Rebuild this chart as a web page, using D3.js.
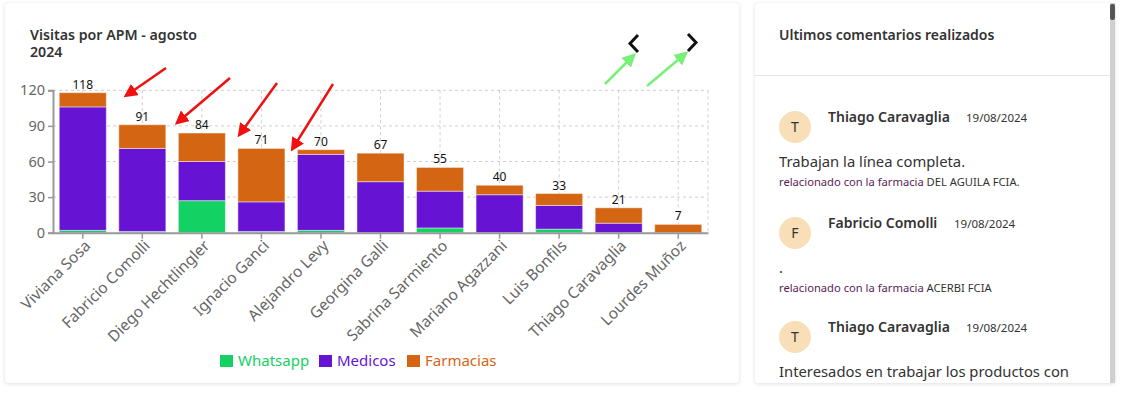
<!DOCTYPE html>
<html>
<head>
<meta charset="utf-8">
<script src="https://cdn.jsdelivr.net/npm/d3@7"></script>
<style>
  body { margin: 0; background: #fff; font-family: "Noto Sans", "Open Sans", sans-serif; color: #333; }
  .card { position: absolute; background: #fff; border-radius: 3px;
          box-shadow: 0 1px 4px rgba(0,0,0,0.12), 0 0 1px rgba(0,0,0,0.08); }
  #chartCard { left: 5px; top: 3px; width: 734px; height: 380px; }
  #commentsCard { left: 755px; top: 3px; width: 360px; height: 380px; overflow: hidden; }
  #chart { position: absolute; left: 0; top: 0; }
  .hdr { position: absolute; left: 24px; top: 22px; font-size: 14px; font-weight: 600; color: #333; }
  .divider { position: absolute; left: 0; right: 0; top: 72px; border-top: 1px solid #e6e6e6; }
  .item { position: absolute; left: 24px; width: 330px; }
  .avatar { position: absolute; left: 0; width: 32px; height: 32px; border-radius: 50%; background: #f8dfb8;
            text-align: center; line-height: 32px; font-size: 14px; color: #333; }
  .name { position: absolute; left: 49px; font-size: 14px; font-weight: 600; color: #333; white-space: nowrap; }
  .date { position: absolute; font-size: 11.5px; color: #333; white-space: nowrap; }
  .text { position: absolute; left: 0; font-size: 14.8px; color: #333; white-space: nowrap; }
  .rel { position: absolute; left: 0; font-size: 11.2px; color: #333; white-space: nowrap; }
  .rel span { color: #5b1d57; }
  .scroll { position: absolute; left: 1110px; top: 3px; width: 5px; height: 380px; background: #d0d0d0; }
  .thumb { position: absolute; left: 1110px; top: 4px; width: 5px; height: 16px; background: #555; border-radius: 2px; }
</style>
</head>
<body>
<div class="card" id="chartCard"></div>
<div class="card" id="commentsCard">
  <div class="hdr">Ultimos comentarios realizados</div>
  <div class="divider"></div>
</div>
<div class="scroll"></div>
<div class="thumb"></div>
<svg id="chart" width="745" height="393"></svg>
<script>
const categories = ["Viviana Sosa", "Fabricio Comolli", "Diego Hechtlingler", "Ignacio Ganci", "Alejandro Levy",
  "Georgina Galli", "Sabrina Sarmiento", "Mariano Agazzani", "Luis Bonfils", "Thiago Caravaglia", "Lourdes Muñoz"];
const whatsapp = [2, 1, 27, 1, 2, 0, 4, 0, 3, 0, 0];
const medicos  = [104, 70, 33, 25, 64, 43, 31, 32, 20, 8, 0];
const farmacias = [12, 20, 24, 45, 4, 24, 20, 8, 10, 13, 7];
const seriesNames = ["Whatsapp", "Medicos", "Farmacias"];
const seriesColors = ["#13d163", "#6613d4", "#d46613"];
const yTicks = [0, 30, 60, 90, 120];

const comments = [
  { initial: "T", name: "Thiago Caravaglia", date: "19/08/2024", text: "Trabajan la línea completa.", pharmacy: "DEL AGUILA FCIA." },
  { initial: "F", name: "Fabricio Comolli", date: "19/08/2024", text: ".", pharmacy: "ACERBI FCIA" },
  { initial: "T", name: "Thiago Caravaglia", date: "19/08/2024", text: "Interesados en trabajar los productos con", pharmacy: "" }
];

// annotation arrows drawn on top of the screenshot
const redArrows = [[166, 68, 127, 95], [230, 78, 178, 122], [277, 83, 240, 134], [333, 84, 293, 148]];
const greenArrows = [[605, 84, 633, 56], [647, 86, 685, 54]];

const svg = d3.select("#chart");
const x0 = 53, x1 = 708, yBottom = 232.7, yTop = 90.3;

const x = d3.scaleBand().domain(categories).range([x0, x1]).paddingInner(0.21).paddingOuter(0.105);
const y = d3.scaleLinear().domain([0, 120]).range([yBottom, yTop]);

// title
svg.append("text").attr("x", 30).attr("y", 40).attr("font-size", 14.2).attr("font-weight", 600).attr("fill", "#333")
  .text("Visitas por APM - agosto");
svg.append("text").attr("x", 30).attr("y", 57).attr("font-size", 14.2).attr("font-weight", 600).attr("fill", "#333")
  .text("2024");

// chevrons
svg.append("path").attr("d", "M638,35 L630,43.5 L638,52").attr("fill", "none").attr("stroke", "#111").attr("stroke-width", 3);
svg.append("path").attr("d", "M688,34 L696,42.5 L688,51").attr("fill", "none").attr("stroke", "#111").attr("stroke-width", 3);

// grid
const grid = svg.append("g").attr("stroke", "#cfcfcf").attr("stroke-dasharray", "3,3").attr("stroke-width", 1);
grid.selectAll("line.h").data(yTicks.filter(d => d > 0)).enter().append("line")
  .attr("x1", x0).attr("x2", x1).attr("y1", d => y(d)).attr("y2", d => y(d));
grid.selectAll("line.v").data(categories).enter().append("line")
  .attr("x1", d => x(d) + x.bandwidth() / 2).attr("x2", d => x(d) + x.bandwidth() / 2)
  .attr("y1", yTop).attr("y2", yBottom);
grid.append("line").attr("x1", x1).attr("x2", x1).attr("y1", yTop).attr("y2", yBottom);

// stacked bars
const rows = categories.map((c, i) => ({ key: c, Whatsapp: whatsapp[i], Medicos: medicos[i], Farmacias: farmacias[i] }));
const stack = d3.stack().keys(seriesNames)(rows);
svg.append("g").selectAll("g").data(stack).enter().append("g")
  .attr("fill", (d, i) => seriesColors[i])
  .selectAll("rect").data(d => d).enter().append("rect")
  .attr("x", d => x(d.data.key))
  .attr("width", x.bandwidth())
  .attr("y", d => y(d[1]))
  .attr("height", d => y(d[0]) - y(d[1]))
  .attr("stroke", "rgba(255,255,255,0.45)")
  .attr("stroke-width", 1);

// totals
svg.append("g").selectAll("text").data(rows).enter().append("text")
  .attr("x", d => x(d.key) + x.bandwidth() / 2)
  .attr("y", d => y(d.Whatsapp + d.Medicos + d.Farmacias) - 4)
  .attr("text-anchor", "middle").attr("font-size", 12).attr("fill", "#111")
  .text(d => d.Whatsapp + d.Medicos + d.Farmacias);

// axes
const yAxis = svg.append("g").attr("transform", `translate(${x0},0)`)
  .call(d3.axisLeft(y).tickValues(yTicks).tickSize(5).tickPadding(3));
const xAxis = svg.append("g").attr("transform", `translate(0,${yBottom})`)
  .call(d3.axisBottom(x).tickSize(6).tickSizeOuter(0));
[yAxis, xAxis].forEach(a => {
  a.select(".domain").attr("stroke", "#999").attr("stroke-width", 2);
  a.selectAll(".tick line").attr("stroke", "#999").attr("stroke-width", 1.5);
  a.selectAll("text").attr("fill", "#666").attr("font-family", "Noto Sans, sans-serif");
});
yAxis.selectAll("text").attr("font-size", 14.5);
xAxis.selectAll("text").attr("font-size", 15.5)
  .attr("text-anchor", "end").attr("dx", "-0.25em").attr("dy", "0.45em")
  .attr("transform", "rotate(-45)");

// legend
const legendX = [220, 319, 407];
const legend = svg.append("g").selectAll("g").data(seriesNames).enter().append("g")
  .attr("transform", (d, i) => `translate(${legendX[i]},355)`);
legend.append("rect").attr("width", 13).attr("height", 12).attr("fill", (d, i) => seriesColors[i]);
legend.append("text").attr("x", 18).attr("y", 11).attr("font-size", 15)
  .attr("fill", (d, i) => seriesColors[i]).text(d => d);

// annotation arrows
const defs = svg.append("defs");
[["red", "#f01010"], ["green", "#78f078"]].forEach(([id, c]) => {
  defs.append("marker").attr("id", "head-" + id).attr("viewBox", "0 0 10 10").attr("refX", 7).attr("refY", 5)
    .attr("markerWidth", 5.5).attr("markerHeight", 5.5).attr("orient", "auto")
    .append("path").attr("d", "M0,0 L10,5 L0,10 z").attr("fill", c);
});
svg.append("g").selectAll("line").data(redArrows).enter().append("line")
  .attr("x1", d => d[0]).attr("y1", d => d[1]).attr("x2", d => d[2]).attr("y2", d => d[3])
  .attr("stroke", "#f01010").attr("stroke-width", 2.5).attr("marker-end", "url(#head-red)");
svg.append("g").selectAll("line").data(greenArrows).enter().append("line")
  .attr("x1", d => d[0]).attr("y1", d => d[1]).attr("x2", d => d[2]).attr("y2", d => d[3])
  .attr("stroke", "#78f078").attr("stroke-width", 2.5).attr("marker-end", "url(#head-green)");

// comments list
const itemTops = [104, 210, 314];
const items = d3.select("#commentsCard").selectAll("div.item").data(comments).enter().append("div")
  .attr("class", "item").style("top", (d, i) => itemTops[i] + "px");
items.append("div").attr("class", "avatar").style("top", "4px").text(d => d.initial);
items.append("div").attr("class", "name").style("top", "0px").text(d => d.name);
items.append("div").attr("class", "date").style("top", "3px")
  .style("left", d => (d.name.startsWith("Fabricio") ? 175 : 187) + "px").text(d => d.date);
items.append("div").attr("class", "text").style("top", "44px").text(d => d.text);
items.filter(d => d.pharmacy).append("div").attr("class", "rel").style("top", "67px")
  .html(d => `<span>relacionado con la farmacia</span> ${d.pharmacy}`);
</script>
</body>
</html>
